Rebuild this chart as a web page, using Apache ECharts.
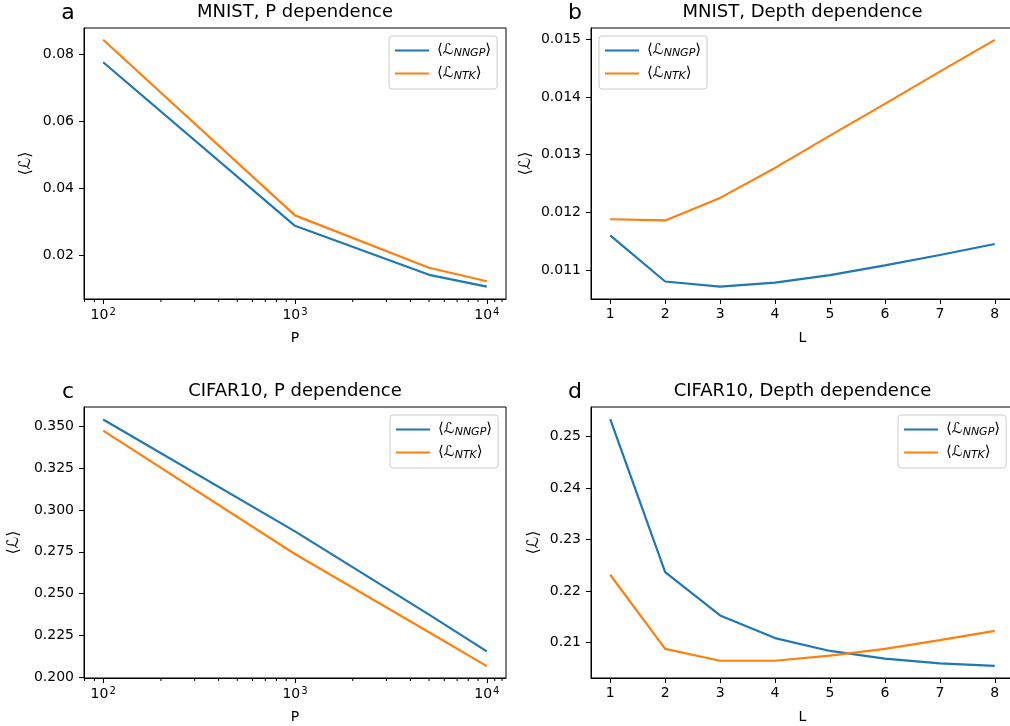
<!DOCTYPE html>
<html>
<head>
<meta charset="UTF-8">
<script src="https://cdn.jsdelivr.net/npm/echarts@6/dist/echarts.min.js"></script>
<style>
  html, body { margin: 0; padding: 0; background: #fff; }
  #chart { width: 1010px; height: 726px; }
</style>
</head>
<body>
<div id="chart"></div>
<script>
// ---- data ----
const P_VALUES = [100, 1000, 5000, 10000];
const L_VALUES = [1, 2, 3, 4, 5, 6, 7, 8];

const MNIST_P_NNGP = [0.0776, 0.0289, 0.0143, 0.0108];
const MNIST_P_NTK  = [0.0843, 0.0320, 0.0164, 0.0124];

const MNIST_L_NNGP = [0.01160, 0.01080, 0.01071, 0.01078, 0.01091, 0.01108, 0.01126, 0.01145];
const MNIST_L_NTK  = [0.01188, 0.01186, 0.01225, 0.01277, 0.01333, 0.01388, 0.01444, 0.01499];

const CIFAR_P_NNGP = [0.3540, 0.2872, 0.2375, 0.2155];
const CIFAR_P_NTK  = [0.3474, 0.2737, 0.2269, 0.2067];

const CIFAR_L_NNGP = [0.2534, 0.2237, 0.2153, 0.2109, 0.2084, 0.2069, 0.2060, 0.2055];
const CIFAR_L_NTK  = [0.2232, 0.2088, 0.2065, 0.2065, 0.2075, 0.2088, 0.2105, 0.2123];

// minor ticks of the log axes
const MINOR_P_TICKS = [80, 90, 200, 300, 400, 500, 600, 700, 800, 900,
  2000, 3000, 4000, 5000, 6000, 7000, 8000, 9000, 11000, 12000];

const PANEL_TITLES  = ['MNIST, P dependence', 'MNIST, Depth dependence',
                       'CIFAR10, P dependence', 'CIFAR10, Depth dependence'];
const PANEL_LETTERS = ['a', 'b', 'c', 'd'];
const SERIES_NAMES  = ['NNGP', 'NTK'];

// ---- layout / style ----
const FONT = 'DejaVu Sans';
const BLUE = '#1f77b4';
const ORANGE = '#ff7f0e';

const grids = [
  { left: 84,  top: 28,  width: 422, height: 271 },
  { left: 591, top: 28,  width: 423, height: 271 },
  { left: 84,  top: 407, width: 422, height: 271 },
  { left: 591, top: 407, width: 423, height: 271 }
];

// y ranges (matplotlib 5% margins) and tick steps
const yRanges = [
  { min: 0.0071, max: 0.0878, step: 0.02, dec: 2 },
  { min: 0.010497, max: 0.015196, step: 0.001, dec: 3 },
  { min: 0.1996, max: 0.3615, step: 0.025, dec: 3 },
  { min: 0.20315, max: 0.25577, step: 0.01, dec: 2 }
];

const legendPos = [
  { left: 389, top: 36 },
  { left: 599, top: 36 },
  { left: 390, top: 415 },
  { left: 898, top: 415 }
];

const yNameGap = [50, 57, 62, 49];

const panelData = [
  [MNIST_P_NNGP, MNIST_P_NTK],
  [MNIST_L_NNGP, MNIST_L_NTK],
  [CIFAR_P_NNGP, CIFAR_P_NTK],
  [CIFAR_L_NNGP, CIFAR_L_NTK]
];

const isLogPanel = [true, false, true, false];

function logLabel(v) {
  const e = Math.log10(v);
  if (Math.abs(e - Math.round(e)) > 1e-6) return '';
  return '{b|10}{s|' + Math.round(e) + '}';
}

const xAxes = grids.map((g, i) => {
  const common = {
    gridIndex: i,
    name: isLogPanel[i] ? 'P' : 'L',
    nameLocation: 'middle',
    nameGap: 32,
    nameTextStyle: { fontFamily: FONT, fontSize: 14, color: '#000' },
    axisLine: { show: true, onZero: false, lineStyle: { color: '#000', width: 1 } },
    axisTick: { show: true, length: 5, lineStyle: { color: '#000', width: 1 } },
    splitLine: { show: false },
    axisLabel: { fontFamily: FONT, fontSize: 14, color: '#000', margin: 8,
                 showMinLabel: false, showMaxLabel: false }
  };
  if (isLogPanel[i]) {
    return Object.assign(common, {
      type: 'log', logBase: 10,
      min: Math.pow(10, 1.9), max: Math.pow(10, 4.1),
      axisLabel: Object.assign(common.axisLabel, {
        formatter: logLabel,
        rich: {
          b: { fontFamily: FONT, fontSize: 14, color: '#000' },
          s: { fontFamily: FONT, fontSize: 10, color: '#000', verticalAlign: 'top', padding: [0, 0, 6, 1] }
        }
      })
    });
  }
  return Object.assign(common, {
    type: 'value', min: 0.65, max: 8.35, minInterval: 1, maxInterval: 1
  });
});

const yAxes = grids.map((g, i) => ({
  gridIndex: i,
  type: 'value',
  min: yRanges[i].min,
  max: yRanges[i].max,
  minInterval: yRanges[i].step,
  maxInterval: yRanges[i].step,
  name: '⟨ℒ⟩',
  nameLocation: 'middle',
  nameRotate: 90,
  nameGap: yNameGap[i],
  nameTextStyle: { fontFamily: FONT, fontSize: 16, color: '#000' },
  axisLine: { show: true, onZero: false, lineStyle: { color: '#000', width: 1 } },
  axisTick: { show: true, length: 5, lineStyle: { color: '#000', width: 1 } },
  splitLine: { show: false },
  axisLabel: {
    fontFamily: FONT, fontSize: 14, color: '#000', margin: 10,
    showMinLabel: false, showMaxLabel: false,
    formatter: v => v.toFixed(yRanges[i].dec)
  }
}));

const series = [];
panelData.forEach((pair, i) => {
  const xs = isLogPanel[i] ? P_VALUES : L_VALUES;
  pair.forEach((ys, k) => {
    series.push({
      name: SERIES_NAMES[k],
      type: 'line',
      xAxisIndex: i,
      yAxisIndex: i,
      data: xs.map((x, j) => [x, ys[j]]),
      symbol: 'none',
      lineStyle: { color: k === 0 ? BLUE : ORANGE, width: 2.2 },
      itemStyle: { color: k === 0 ? BLUE : ORANGE },
      animation: false
    });
  });
  if (isLogPanel[i]) {
    const yMin = yRanges[i].min;
    series.push({
      type: 'custom',
      xAxisIndex: i,
      yAxisIndex: i,
      silent: true,
      clip: false,
      data: MINOR_P_TICKS.map(v => [v, yMin]),
      renderItem: (params, api) => {
        const p = api.coord([api.value(0), api.value(1)]);
        return {
          type: 'line',
          shape: { x1: p[0], y1: p[1], x2: p[0], y2: p[1] + 3 },
          style: { stroke: '#000', lineWidth: 1 }
        };
      },
      animation: false
    });
  }
});

const titles = [];
grids.forEach((g, i) => {
  titles.push({
    text: PANEL_TITLES[i],
    left: g.left + g.width / 2,
    top: g.top - 25,
    textAlign: 'center',
    padding: 0,
    textStyle: { fontFamily: FONT, fontSize: 18, fontWeight: 'normal', color: '#000' }
  });
  titles.push({
    text: PANEL_LETTERS[i],
    left: g.left - 16,
    top: g.top - 26,
    textAlign: 'center',
    padding: 0,
    textStyle: { fontFamily: FONT, fontSize: 22, fontWeight: 'normal', color: '#000' }
  });
});

const legends = legendPos.map(pos => ({
  data: SERIES_NAMES,
  left: pos.left,
  top: pos.top,
  orient: 'vertical',
  icon: 'rect',
  itemWidth: 34,
  itemHeight: 2,
  itemGap: 7,
  padding: [7, 6, 7, 6],
  backgroundColor: 'rgba(255,255,255,0.8)',
  borderColor: '#cccccc',
  borderWidth: 1,
  borderRadius: 3,
  selectedMode: false,
  formatter: name => '⟨ℒ{sub|' + name + '}⟩',
  textStyle: {
    fontFamily: FONT, fontSize: 15, color: '#000', padding: [0, 0, 0, 3],
    rich: {
      sub: { fontFamily: FONT, fontSize: 11, fontStyle: 'italic', color: '#000', padding: [6, 0, 0, 0] }
    }
  }
}));

const chart = echarts.init(document.getElementById('chart'), null, { renderer: 'canvas' });
chart.setOption({
  animation: false,
  backgroundColor: '#fff',
  title: titles,
  legend: legends,
  grid: grids.map(g => Object.assign({
    show: true, borderColor: '#000', borderWidth: 1, backgroundColor: 'transparent',
    containLabel: false, outerBoundsMode: 'none'
  }, g)),
  xAxis: xAxes,
  yAxis: yAxes,
  series: series
});
</script>
</body>
</html>
